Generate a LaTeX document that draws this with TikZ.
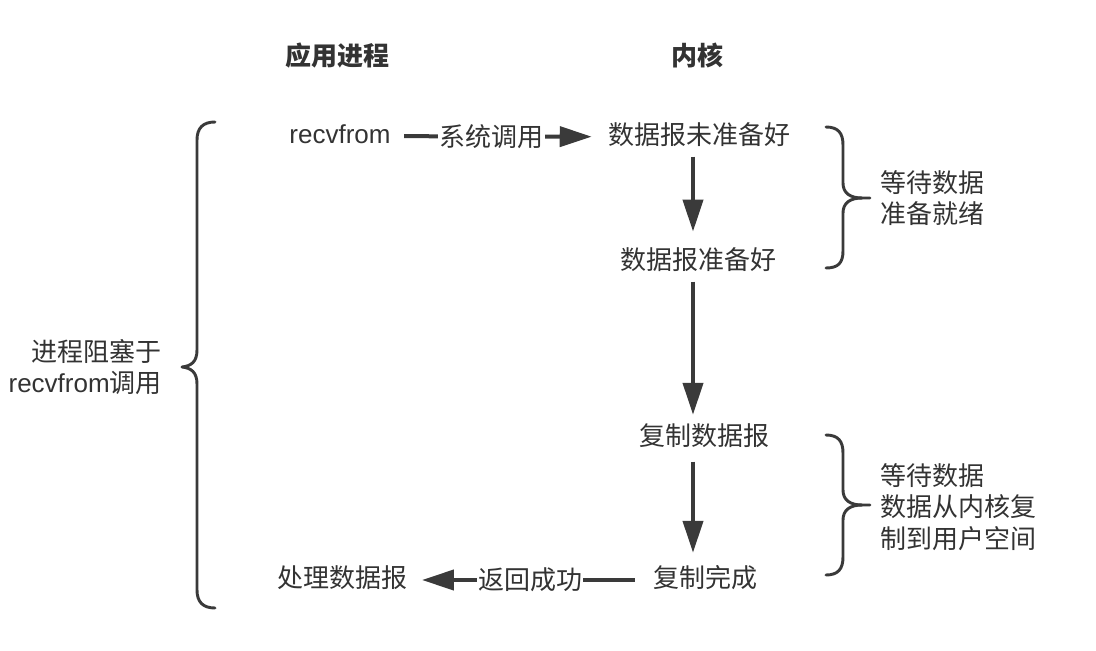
\documentclass[tikz,border=0pt]{standalone}
\usepackage{fontspec}
\setmainfont{Noto Sans CJK SC}
\newfontfamily\latinfont{Liberation Sans}
\usetikzlibrary{arrows.meta}
\definecolor{ink}{HTML}{333333}
\definecolor{linec}{HTML}{3A3A3A}
\tikzset{
  txt/.style={inner sep=0pt, text height=1.12em, text depth=-0.12em, text=ink, font=\fontsize{19.5}{23}\selectfont},
  head/.style={txt, font=\fontsize{19.5}{23}\selectfont\bfseries},
  arr/.style={draw=linec, line width=3pt, -{Triangle[length=24pt,width=15pt]}},
  lbl/.style={fill=white, inner sep=1pt, text=ink, font=\fontsize{19.5}{23}\selectfont},
  brace/.style={draw=linec, line width=2.2pt, line cap=round, line join=round},
  note/.style={text=ink, font=\fontsize{19.5}{23.5}\selectfont, align=left, inner sep=0pt}
}
\begin{document}
\begin{tikzpicture}[x=0.75pt, y=-0.75pt]
\useasboundingbox (0,0) rectangle (1096,650);

% column headers
\node[head] (app) at (337,58) {应用进程};
\node[head] (kern) at (697,58) {内核};

% call, kernel states and return
\node[txt] (recv) at (340,136) {\latinfont recvfrom};
\node[txt] (notready) at (699,137) {数据报未准备好};
\node[txt] (ready) at (698,262) {数据报准备好};
\node[txt] (copy) at (704,438) {复制数据报};
\node[txt] (done) at (705,580) {复制完成};
\node[txt] (proc) at (342,580) {处理数据报};
\coordinate (col) at (693,0);

% connectors
\draw[arr, shorten <=10pt, shorten >=12pt] (recv) -- (notready)
  node[lbl, pos=0.465] {系统调用};
\draw[arr, shorten <=9pt, shorten >=17pt] (notready.south -| col) -- (ready.north -| col);
\draw[arr, shorten <=9pt, shorten >=11.6pt] (ready.south -| col) -- (copy.north -| col);
\draw[arr, shorten <=12pt, shorten >=14.6pt] (copy.south -| col) -- (done.north -| col);
\draw[arr, shorten <=13.5pt, shorten >=11pt] (done) -- (proc)
  node[lbl, midway] {返回成功};

% left brace: blocked interval
\draw[brace] (215,122) .. controls (203,122) and (197,128) .. (197,140)
  -- (197,350) .. controls (197,362) and (191,366) .. (182,367)
  .. controls (191,368) and (197,372) .. (197,384)
  -- (197,590) .. controls (197,602) and (203,608) .. (215,608);
\node[note, align=right, anchor=east] (blocked) at (162,367)
  {进程阻塞于\\{\latinfont recvfrom}调用};

% right brace: waiting for data
\draw[brace] (826,127) .. controls (838,127) and (843,133) .. (843,145)
  -- (843,183) .. controls (843,193) and (850,198) .. (862,198)
  -- (870,198);
\draw[brace] (862,198) .. controls (850,198) and (843,203) .. (843,213)
  -- (843,251) .. controls (843,263) and (838,268) .. (826,268);
\node[note, anchor=west] (waitready) at (880,198) {等待数据\\准备就绪};

% right brace: copying data
\draw[brace] (826,435) .. controls (838,435) and (843,441) .. (843,453)
  -- (843,490) .. controls (843,500) and (850,505) .. (862,505)
  -- (870,505);
\draw[brace] (862,505) .. controls (850,505) and (843,510) .. (843,520)
  -- (843,557) .. controls (843,569) and (838,575) .. (826,575);
\node[note, anchor=west] (waitcopy) at (880,507) {等待数据\\数据从内核复\\制到用户空间};
\end{tikzpicture}
\end{document}
